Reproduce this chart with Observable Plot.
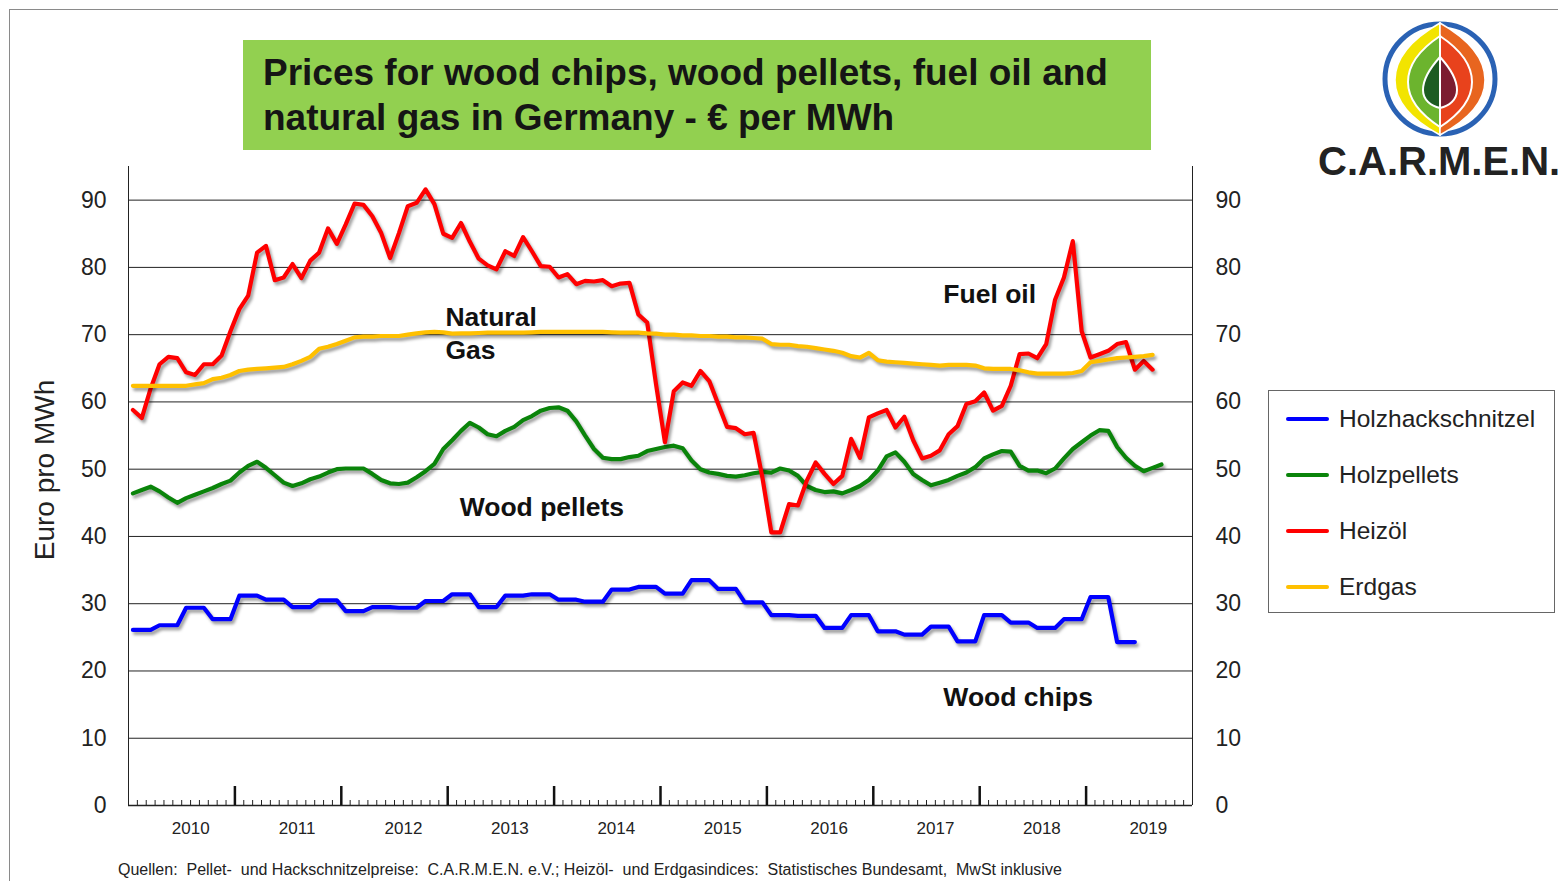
<!DOCTYPE html>
<html>
<head>
<meta charset="utf-8">
<script src="https://cdn.jsdelivr.net/npm/d3@7"></script>
<script src="https://cdn.jsdelivr.net/npm/@observablehq/plot@0.6"></script>
<style>
  html, body { margin: 0; padding: 0; background: #fff; }
  body { width: 1558px; height: 881px; overflow: hidden; position: relative; font-family: "Liberation Sans", Arial, sans-serif; color: #222; }
  #frame { position: absolute; left: 9px; top: 9px; width: 1600px; height: 900px; border-left: 1px solid #8a8a8a; border-top: 1px solid #8a8a8a; }
  #chart { position: absolute; left: 0; top: 0; }
  #title { position: absolute; left: 243px; top: 40px; width: 908px; height: 110px; background: #92D050; box-sizing: border-box; padding: 10px 0 0 20px; font-weight: bold; font-size: 37px; line-height: 45px; color: #151515; }
  #ytitle { position: absolute; left: 45px; top: 470px; transform: translate(-50%, -50%) rotate(-90deg); font-size: 28px; white-space: nowrap; color: #222; }
  #legend { position: absolute; left: 1268px; top: 390px; width: 287px; height: 223px; box-sizing: border-box; border: 1px solid #666; background: #fff; }
  .lg { position: absolute; left: 17px; height: 30px; display: flex; align-items: center; font-size: 24.5px; color: #222; white-space: nowrap; }
  .lg span.sw { display: inline-block; width: 43px; height: 4px; margin-right: 10px; border-radius: 2px; }
  #footer { position: absolute; left: 118px; top: 861px; font-size: 16px; white-space: pre; color: #222; }
  #logo { position: absolute; left: 0; top: 0; }
  #carmen { position: absolute; left: 1318px; top: 139px; font-size: 40px; font-weight: bold; color: #222; white-space: nowrap; letter-spacing: 0px; }
  g[aria-label="line"] path { filter: drop-shadow(2px 3px 1.5px rgba(0,0,0,0.38)); }
</style>
</head>
<body>
<div id="frame"></div>
<div id="chart"></div>
<div id="title">Prices for wood chips, wood pellets, fuel oil and<br>natural gas in Germany - € per MWh</div>
<div id="ytitle">Euro pro MWh</div>
<div id="legend"></div>
<div id="footer"></div>
<svg id="logo" width="1558" height="200" style="pointer-events:none">
  <circle cx="1440" cy="79" r="55" fill="none" stroke="#2a62b4" stroke-width="5"/>
  <path d="M1440,23 C1410,40 1395,60 1395,80 C1395,102 1412,120 1440,135 Z" fill="#f2e400" stroke="#fff" stroke-width="1.5"/>
  <path d="M1440,23 C1470,40 1485,60 1485,80 C1485,102 1468,120 1440,135 Z" fill="#e8651f" stroke="#fff" stroke-width="1.5"/>
  <path d="M1440,36 C1419,50 1408,66 1408,82 C1408,100 1420,114 1440,127 Z" fill="#6cb42e" stroke="#fff" stroke-width="2"/>
  <path d="M1440,36 C1461,50 1472,66 1472,82 C1472,100 1460,114 1440,127 Z" fill="#e8421c" stroke="#fff" stroke-width="2"/>
  <path d="M1440,57 C1430,68 1423,80 1423,90 C1423,100 1431,106 1440,108 Z" fill="#1d5c22" stroke="#fff" stroke-width="2"/>
  <path d="M1440,57 C1450,68 1457,80 1457,90 C1457,100 1449,106 1440,108 Z" fill="#7c1c30" stroke="#fff" stroke-width="2"/>
</svg>
<div id="carmen">C.A.R.M.E.N.</div>
<script>
// ---- Data (monthly, starting January 2010), € per MWh ----
const years = [2010, 2011, 2012, 2013, 2014, 2015, 2016, 2017, 2018, 2019];
const yTicks = [0, 10, 20, 30, 40, 50, 60, 70, 80, 90];
const seriesNames = ["Holzhackschnitzel", "Holzpellets", "Heizöl", "Erdgas"];
const seriesColors = ["#0000ff", "#0a840a", "#ff0000", "#ffc000"];

const chips = [
  26.1, 26.1, 26.1, 26.8, 26.8, 26.8, 29.4, 29.4, 29.4, 27.7, 27.7, 27.7,
  31.2, 31.2, 31.2, 30.6, 30.6, 30.6, 29.5, 29.5, 29.5, 30.5, 30.5, 30.5,
  28.9, 28.9, 28.9, 29.5, 29.5, 29.5, 29.4, 29.4, 29.4, 30.4, 30.4, 30.4,
  31.4, 31.4, 31.4, 29.5, 29.5, 29.5, 31.2, 31.2, 31.2, 31.4, 31.4, 31.4,
  30.6, 30.6, 30.6, 30.3, 30.3, 30.3, 32.1, 32.1, 32.1, 32.5, 32.5, 32.5,
  31.5, 31.5, 31.5, 33.5, 33.5, 33.5, 32.2, 32.2, 32.2, 30.2, 30.2, 30.2,
  28.3, 28.3, 28.3, 28.2, 28.2, 28.2, 26.4, 26.4, 26.4, 28.3, 28.3, 28.3,
  25.9, 25.9, 25.9, 25.4, 25.4, 25.4, 26.6, 26.6, 26.6, 24.4, 24.4, 24.4,
  28.3, 28.3, 28.3, 27.2, 27.2, 27.2, 26.4, 26.4, 26.4, 27.7, 27.7, 27.7,
  31.0, 31.0, 31.0, 24.3, 24.3, 24.3
];

const pellets = [
  46.4, 46.9, 47.4, 46.7, 45.8, 45.0, 45.7, 46.2, 46.7, 47.2, 47.8, 48.3,
  49.5, 50.5, 51.1, 50.2, 49.1, 48.0, 47.5, 47.9, 48.5, 48.9, 49.5, 50.0,
  50.1, 50.1, 50.1, 49.3, 48.4, 47.9, 47.8, 48.0, 48.8, 49.7, 50.8, 53.0,
  54.3, 55.7, 56.9, 56.2, 55.2, 54.9, 55.7, 56.3, 57.3, 57.9, 58.7, 59.1,
  59.2, 58.7, 57.1, 55.0, 53.0, 51.7, 51.5, 51.5, 51.8, 52.0, 52.7, 53.0,
  53.3, 53.5, 53.1, 51.3, 50.0, 49.5, 49.3, 49.0, 48.9, 49.1, 49.4, 49.6,
  49.5, 50.1, 49.8, 49.0, 47.5, 46.9, 46.6, 46.7, 46.4, 46.9, 47.5, 48.4,
  49.8, 51.9, 52.5, 51.1, 49.3, 48.4, 47.6, 48.0, 48.4, 49.0, 49.5, 50.3,
  51.6, 52.2, 52.7, 52.6, 50.5, 49.8, 49.8, 49.4, 50.1, 51.6, 53.0, 54.0,
  55.0, 55.8, 55.7, 53.3, 51.7, 50.5, 49.7, 50.2, 50.7
];

const oil = [
  58.8, 57.6, 62.0, 65.6, 66.7, 66.5, 64.4, 64.0, 65.6, 65.6, 66.9, 70.5,
  73.8, 75.8, 82.2, 83.2, 78.1, 78.5, 80.5, 78.4, 81.0, 82.2, 85.8, 83.5,
  86.4, 89.5, 89.3, 87.6, 85.1, 81.4, 85.1, 89.1, 89.6, 91.6, 89.4, 85.0,
  84.4, 86.6, 83.8, 81.3, 80.3, 79.7, 82.4, 81.7, 84.5, 82.4, 80.2, 80.1,
  78.5, 79.0, 77.5, 78.0, 77.9, 78.1, 77.2, 77.6, 77.7, 73.0, 71.8, 62.6,
  54.0, 61.6, 62.9, 62.4, 64.6, 63.1, 59.7, 56.3, 56.1, 55.2, 55.4, 48.7,
  40.6, 40.6, 44.8, 44.6, 48.3, 51.0, 49.3, 47.8, 49.0, 54.5, 51.7, 57.7,
  58.3, 58.8, 56.2, 57.8, 54.3, 51.6, 52.0, 52.8, 55.2, 56.4, 59.7, 60.1,
  61.4, 58.7, 59.4, 62.4, 67.1, 67.2, 66.5, 68.6, 75.2, 78.5, 83.9, 70.5,
  66.6, 67.1, 67.6, 68.6, 68.9, 64.8, 66.1, 64.8
];

const gas = [
  62.4, 62.4, 62.4, 62.4, 62.4, 62.4, 62.4, 62.6, 62.8, 63.4, 63.6, 64.0,
  64.6, 64.8, 64.9, 65.0, 65.1, 65.2, 65.6, 66.1, 66.7, 67.9, 68.2, 68.6,
  69.1, 69.6, 69.7, 69.7, 69.8, 69.8, 69.8, 70.0, 70.2, 70.35, 70.4, 70.35,
  70.15, 70.2, 70.2, 70.25, 70.3, 70.3, 70.3, 70.3, 70.3, 70.35, 70.4, 70.4,
  70.4, 70.4, 70.4, 70.4, 70.4, 70.4, 70.35, 70.3, 70.3, 70.3, 70.2, 70.15,
  70.0, 70.0, 69.9, 69.9, 69.8, 69.8, 69.7, 69.7, 69.6, 69.6, 69.5, 69.4,
  68.6, 68.5, 68.5, 68.3, 68.2, 68.0, 67.8, 67.6, 67.3, 66.8, 66.6, 67.3,
  66.2, 66.0, 65.9, 65.8, 65.7, 65.6, 65.5, 65.4, 65.5, 65.5, 65.5, 65.4,
  65.0, 64.9, 64.9, 64.9, 64.7, 64.4, 64.2, 64.2, 64.2, 64.2, 64.3, 64.6,
  65.9, 66.1, 66.3, 66.5, 66.6, 66.7, 66.8, 67.0
];

// annotation labels (position in month index / € per MWh)
const noteLabels = ["Natural", "Gas", "Fuel oil", "Wood pellets", "Wood chips"];
const noteMonth = [35.75, 35.75, 91.9, 37.35, 91.9];
const noteValue = [72.6, 67.7, 75.9, 44.3, 16.0];

const footerText = "Quellen:  Pellet-  und Hackschnitzelpreise:  C.A.R.M.E.N. e.V.; Heizöl-  und Erdgasindices:  Statistisches Bundesamt,  MwSt inklusive";

// ---- build tables ----
const allSeries = [chips, pellets, oil, gas];
const rows = allSeries.flatMap((arr, s) => arr.map((v, i) => ({series: seriesNames[s], m: i + 0.5, v})));
const notes = noteLabels.map((t, k) => ({t, m: noteMonth[k], v: noteValue[k]}));
const yearStarts = years.slice(1).map((y, k) => (k + 1) * 12);
const yearCenters = years.map((y, k) => k * 12 + 6);
const monthTicks = d3.range(1, years.length * 12).filter(m => m % 12 !== 0);

const chart = Plot.plot({
  width: 1558,
  height: 881,
  marginLeft: 128,
  marginRight: 366,
  marginTop: 166,
  marginBottom: 76,
  style: {fontFamily: '"Liberation Sans", Arial, sans-serif', color: "#222", background: "transparent", overflow: "visible"},
  x: {domain: [0, years.length * 12], axis: null, label: null},
  y: {domain: [0, 95], axis: null, label: null},
  color: {domain: seriesNames, range: seriesColors},
  marks: [
    Plot.gridY(yTicks.filter(d => d > 0), {stroke: "#222", strokeOpacity: 1, strokeWidth: 1}),
    Plot.ruleX([0, years.length * 12], {stroke: "#222", strokeWidth: 1}),
    Plot.ruleY([0], {stroke: "#222", strokeWidth: 1.5}),
    Plot.ruleX(monthTicks, {x: d => d, y1: 0, y2: 0, insetTop: -5, stroke: "#222", strokeWidth: 1}),
    Plot.ruleX(yearStarts, {x: d => d, y1: 0, y2: 0, insetTop: -19, stroke: "#111", strokeWidth: 2.5}),
    Plot.axisY({ticks: yTicks, anchor: "left", tickSize: 0, tickPadding: 22, fontSize: 23, fill: "#222", label: null}),
    Plot.axisY({ticks: yTicks, anchor: "right", tickSize: 0, tickPadding: 23, fontSize: 23, fill: "#222", label: null}),
    Plot.axisX({ticks: yearCenters, tickFormat: d => String(years[(d - 6) / 12]), anchor: "bottom", tickSize: 0, tickPadding: 16, fontSize: 17, dx: 9, fill: "#222", label: null}),
    Plot.line(rows, {x: "m", y: "v", z: "series", stroke: "series", strokeWidth: 4.2, strokeLinejoin: "round", strokeLinecap: "round"}),
    Plot.text(notes, {x: "m", y: "v", text: "t", textAnchor: "start", fontSize: 26.5, fontWeight: "bold", fill: "#111"})
  ]
});
document.getElementById("chart").appendChild(chart);

// legend
const legend = document.getElementById("legend");
const rowTops = [13, 69, 125, 181];
seriesNames.forEach((name, k) => {
  const d = document.createElement("div");
  d.className = "lg";
  d.style.top = rowTops[k] + "px";
  d.innerHTML = `<span class="sw" style="background:${seriesColors[k]}"></span>${name}`;
  legend.appendChild(d);
});
document.getElementById("footer").textContent = footerText;
</script>
</body>
</html>
